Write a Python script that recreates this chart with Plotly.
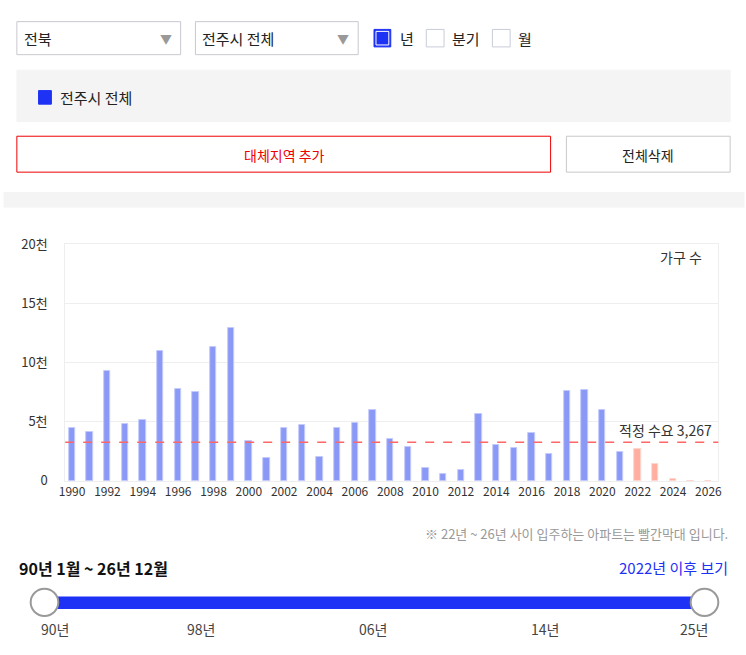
import plotly.graph_objects as go

W, H = 746, 655
FONT = "Noto Sans CJK KR, Noto Sans, sans-serif"

# ---- data ----
years = list(range(1990, 2027))
households = [4450, 4100, 9250, 4800, 5150, 10950, 7800, 7500, 11300, 12900,
              3400, 1950, 4500, 4750, 2050, 4500, 4900, 5950, 3500, 2850,
              1050, 550, 950, 5650, 3000, 2800, 4050, 2250, 7600, 7700,
              5950, 2450, 2700, 1450, 150, 0, 0]
future_from = 2022
demand = 3267
y_ticks = [0, 5000, 10000, 15000, 20000]
y_tick_labels = ["0", "5천", "10천", "15천", "20천"]
x_ticks = list(range(1990, 2027, 2))
slider_labels = ["90년", "98년", "06년", "14년", "25년"]
region_options = ["전북", "전주시 전체"]
period_options = ["년", "분기", "월"]

def px(x):
    return x / W

def py(y):
    return 1 - y / H

blue_fill = "#8a98f6"
blue_edge = "#c4cbfa"
red_fill = "#ffae9f"
red_edge = "#ffd6ce"
colors = [red_fill if y >= future_from else blue_fill for y in years]
edges = [red_edge if y >= future_from else blue_edge for y in years]

fig = go.Figure()
fig.add_trace(go.Bar(
    x=years, y=households, width=0.36,
    marker=dict(color=colors, line=dict(color=edges, width=1)),
    hoverinfo="x+y", showlegend=False,
))

shapes = []
ann = []

def rect(x0, y0, x1, y1, fill="white", line="#c8c8d0", lw=1):
    shapes.append(dict(type="rect", xref="paper", yref="paper",
                       x0=px(x0), x1=px(x1), y0=py(y1), y1=py(y0),
                       fillcolor=fill, line=dict(color=line, width=lw), layer="below"))

def text(x, y, s, size=14, color="#333", anchor="left", bold=False):
    if bold:
        s = "<b>" + s + "</b>"
    ann.append(dict(xref="paper", yref="paper", x=px(x), y=py(y), text=s,
                    showarrow=False, xanchor=anchor, yanchor="middle",
                    font=dict(family=FONT, size=size, color=color)))

# dropdowns
rect(11, 12, 177, 46)
text(16, 29, region_options[0], 15, "#222")
text(162, 29, "▼", 12, "#999", "center")
rect(192, 12, 357, 46)
text(197, 29, region_options[1], 15, "#222")
text(342, 29, "▼", 12, "#999", "center")

# checkboxes
rect(373, 20, 390, 38, fill="#1e32f5", line="#1e32f5")
shapes.append(dict(type="rect", xref="paper", yref="paper",
                   x0=px(375), x1=px(388), y0=py(36), y1=py(22),
                   fillcolor="#1e32f5", line=dict(color="white", width=1)))
text(397, 29, period_options[0], 15, "#222")
rect(426, 20, 444, 38, line="#c8ccd8")
text(450, 29, period_options[1], 15, "#222")
rect(493, 20, 511, 38, line="#c8ccd8")
text(517, 29, period_options[2], 15, "#222")

# legend box
rect(11, 62, 734, 115, fill="#f4f4f4", line="#f4f4f4")
rect(33, 83, 46, 97, fill="#1e32f5", line="#1e32f5")
text(53, 90, "전주시 전체", 15, "#222")

# buttons
rect(11, 130, 552, 167, line="#ee0000", lw=1)
text(282, 149, "대체지역 추가", 14, "#ee0000", "center")
rect(568, 130, 734, 167, line="#c8c8c8", lw=1)
text(651, 149, "전체삭제", 14, "#222", "center")

# separator band
rect(-2, 188, 748, 203, fill="#f4f4f4", line="#f4f4f4")

# demand line
shapes.append(dict(type="line", xref="x domain", yref="y", x0=0, x1=1,
                   y0=demand, y1=demand,
                   line=dict(color="#ff6666", width=1.3, dash="dash"), layer="above"))
ann.append(dict(xref="paper", yref="y", x=px(718), y=demand, yshift=12,
                text=f"적정 수요 {demand:,}", showarrow=False,
                xanchor="right", yanchor="middle",
                font=dict(family=FONT, size=14, color="#333")))
text(707, 254, "가구 수", 14, "#333", "right")

# note
text(734, 539, "※ 22년 ~ 26년 사이 입주하는 아파트는 빨간막대 입니다.",
     13, "#999", "right")

# range text
text(11, 575, "90년 1월 ~ 26년 12월", 16, "#111", "left", bold=True)
text(734, 574, "2022년 이후 보기", 15, "#1e32f5", "right")

# slider
rect(39, 604, 708, 617, fill="#1e32f5", line="#1e32f5", lw=0)
for cx in (39, 708):
    shapes.append(dict(type="circle", xref="paper", yref="paper",
                       x0=px(cx - 14), x1=px(cx + 14), y0=py(624), y1=py(596),
                       fillcolor="white", line=dict(color="#999", width=2)))
for lx, lab in zip([50, 198, 372, 546, 697], slider_labels):
    text(lx, 637, lab, 14, "#444", "center")

fig.update_layout(
    width=W, height=H, margin=dict(l=0, r=0, t=0, b=0, pad=0),
    paper_bgcolor="white", plot_bgcolor="white",
    font=dict(family=FONT, size=12, color="#333"),
    shapes=shapes, annotations=ann,
    bargap=0,
    xaxis=dict(domain=[px(60), px(722)], range=[1989.61, 2026.56],
               tickmode="array", tickvals=x_ticks, ticktext=[str(t) for t in x_ticks],
               showgrid=False, showline=True, linecolor="#eeeeee", mirror=True,
               ticks="", zeroline=False, fixedrange=True,
               tickfont=dict(family=FONT, size=12, color="#333")),
    yaxis=dict(domain=[py(485), py(241)], range=[0, 20000],
               tickmode="array", tickvals=y_ticks, ticktext=y_tick_labels,
               showgrid=True, gridcolor="#eeeeee", gridwidth=1,
               showline=True, linecolor="#eeeeee", mirror=True,
               zeroline=False, ticks="", ticklabelstandoff=14, fixedrange=True,
               tickfont=dict(family=FONT, size=13, color="#333")),
)

post = ("document.documentElement.style.margin='0';"
        "document.body.style.margin='0';"
        "document.body.style.overflow='hidden';")
fig.write_html("out.html", post_script=post)
